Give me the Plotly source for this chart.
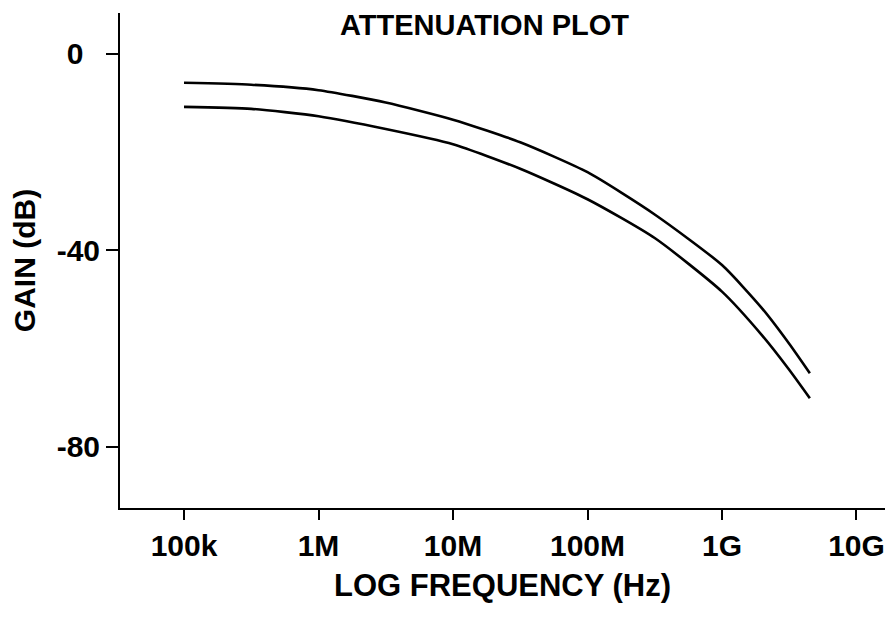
import plotly.graph_objects as go

# Frequency points (Hz), half-decade steps up to the curve end
freq_hz = [1e5, 3.16e5, 1e6, 3.16e6, 1e7, 3.16e7, 1e8, 3.16e8, 1e9, 2e9, 3.16e9, 4.5e9]
# Upper curve gain (dB)
gain_upper_db = [-5.9, -6.3, -7.4, -9.9, -13.4, -18.0, -24.1, -32.7, -43.0, -51.9, -59.0, -65.0]
# Lower curve gain (dB)
gain_lower_db = [-10.8, -11.2, -12.7, -15.3, -18.4, -23.4, -29.6, -37.5, -48.4, -57.4, -64.3, -70.1]

x_tick_vals = [1e5, 1e6, 1e7, 1e8, 1e9, 1e10]
x_tick_text = ["100k", "1M", "10M", "100M", "1G", "10G"]
y_tick_vals = [0, -40, -80]
y_tick_text = ["0\u00a0\u00a0", "-40", "-80"]

FONT = "Liberation Sans, Arial, Helvetica, sans-serif"

fig = go.Figure()
for g in (gain_upper_db, gain_lower_db):
    fig.add_trace(go.Scatter(
        x=freq_hz, y=g, mode="lines",
        line=dict(color="black", width=2.6, shape="spline", smoothing=0.6),
        showlegend=False, hoverinfo="skip",
    ))

fig.update_layout(
    width=885, height=619,
    margin=dict(l=120, r=0, t=13, b=111),
    paper_bgcolor="white", plot_bgcolor="white",
    font=dict(family=FONT, color="black"),
    title=dict(
        text="ATTENUATION PLOT",
        font=dict(family=FONT, size=29, weight="bold", color="black"),
        x=0.4765, xref="paper", xanchor="center",
        y=1 - 25 / 619, yref="container", yanchor="middle",
    ),
    xaxis=dict(
        type="log", range=[4.524, 10.212],
        tickvals=x_tick_vals, ticktext=x_tick_text,
        tickfont=dict(family=FONT, size=30, weight="bold", color="black"),
        ticks="outside", ticklen=10, tickwidth=2, tickcolor="black",
        showline=True, linewidth=2, linecolor="black",
        showgrid=False, zeroline=False,
        title=dict(text="LOG FREQUENCY (Hz)",
                   font=dict(family=FONT, size=31, weight="bold", color="black"),
                   standoff=13),
    ),
    yaxis=dict(
        range=[-92.45, 8.31],
        tickvals=y_tick_vals, ticktext=y_tick_text,
        tickfont=dict(family=FONT, size=30, weight="bold", color="black"),
        ticks="outside", ticklen=12, tickwidth=2, tickcolor="black",
        showline=True, linewidth=2, linecolor="black",
        showgrid=False, zeroline=False,
        title=dict(text="GAIN (dB)",
                   font=dict(family=FONT, size=30, weight="bold", color="black"),
                   standoff=12),
    ),
)

fig.write_html("out.html", config={"displayModeBar": False},
               post_script="document.body.style.margin='0';")
